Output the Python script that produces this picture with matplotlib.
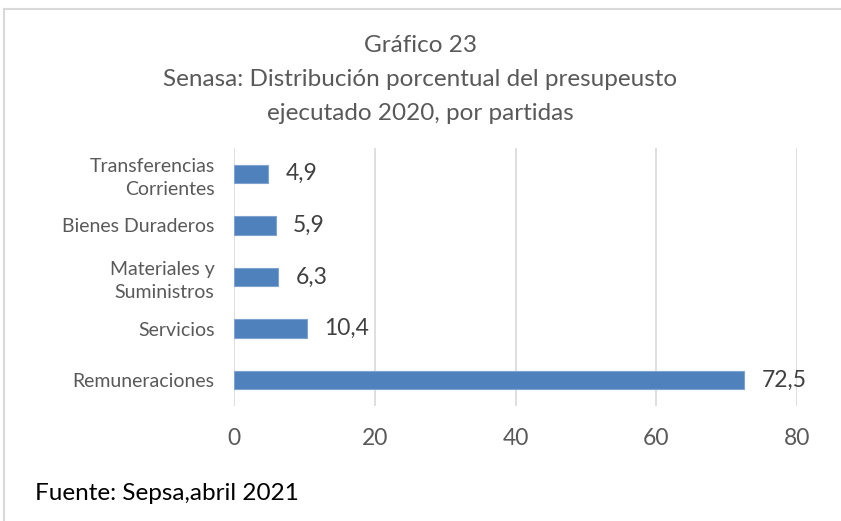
import matplotlib.pyplot as plt
from matplotlib.lines import Line2D

categorias = ["Remuneraciones", "Servicios", "Materiales y\nSuministros",
              "Bienes Duraderos", "Transferencias\nCorrientes"]
valores = [72.5, 10.4, 6.3, 5.9, 4.9]
etiquetas = ["72,5", "10,4", "6,3", "5,9", "4,9"]
ticks_x = [0, 20, 40, 60, 80]

plt.rcParams['font.family'] = ['Lato', 'DejaVu Sans']
gris = '#595959'

fig = plt.figure(figsize=(8.41, 5.21), dpi=100)
ax = fig.add_axes([234 / 841, 1 - 406 / 521, (797 - 234) / 841, (406 - 148) / 521])

pos = range(len(categorias))
ax.barh(pos, valores, height=0.36, color='#4F81BD', edgecolor='#7FA3D0', linewidth=0.8, zorder=3)
for p, v, t in zip(pos, valores, etiquetas):
    ax.annotate(t, (v, p), xytext=(12.5, 0), textcoords='offset points',
                va='center', ha='left', fontsize=16.5, color='#404040')

ax.set_xlim(0, 80)
ax.set_ylim(-0.5, len(categorias) - 0.5)
ax.set_xticks(ticks_x)
ax.set_xticklabels([str(t) for t in ticks_x], fontsize=16.5, color=gris)
ax.set_yticks(list(pos))
ax.set_yticklabels(categorias, fontsize=14, color=gris, linespacing=1.4)
ax.tick_params(length=0)
ax.tick_params(axis='x', pad=16)
ax.tick_params(axis='y', pad=14)
ax.grid(axis='x', color='#D9D9D9', linewidth=1.2, zorder=0)
for s in ax.spines.values():
    s.set_visible(False)

fs_tit = 17.5
fig.text(0.5, 1 - 46 / 521, "Gráfico 23", ha='center', va='center', fontsize=fs_tit, color=gris)
fig.text(0.5, 1 - 80 / 521, "Senasa: Distribución porcentual del presupeusto", ha='center', va='center',
         fontsize=fs_tit, color=gris)
fig.text(0.5, 1 - 114 / 521, "ejecutado 2020, por partidas", ha='center', va='center', fontsize=fs_tit, color=gris)

fig.text(35 / 841, 1 - 493 / 521, "Fuente: Sepsa,abril 2021", ha='left', va='center', fontsize=17.5, color='black')

# borde del cuadro
fig.add_artist(Line2D([4 / 841, 4 / 841], [0, 1 - 9 / 521], transform=fig.transFigure, color='#D9D9D9', lw=1.5))
fig.add_artist(Line2D([4 / 841, 1], [1 - 9 / 521, 1 - 9 / 521], transform=fig.transFigure, color='#D9D9D9', lw=1.5))

fig.savefig("out.png", dpi=100)
